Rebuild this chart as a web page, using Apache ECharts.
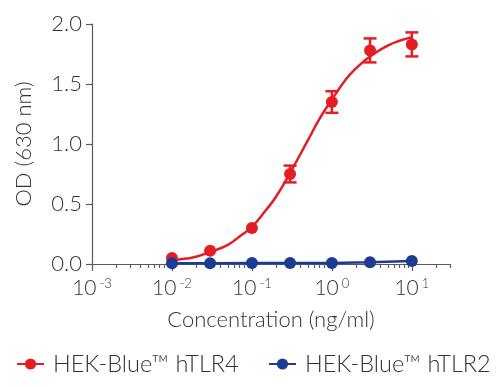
<!DOCTYPE html>
<html>
<head>
<meta charset="utf-8">
<script src="https://cdn.jsdelivr.net/npm/echarts@6/dist/echarts.min.js"></script>
<style>html,body{margin:0;padding:0;background:#fff}#c{width:500px;height:387px}</style>
</head>
<body>
<div id="c"></div>
<script>
// Concentrations (ng/ml)
const concentrations = [0.01, 0.03, 0.1, 0.3, 1, 3, 10];
// HEK-Blue hTLR4 mean OD and error (±)
const tlr4Mean = [0.05, 0.11, 0.30, 0.75, 1.35, 1.78, 1.83];
const tlr4Err = [0, 0, 0, 0.07, 0.09, 0.10, 0.10];
// HEK-Blue hTLR2 mean OD
const tlr2Mean = [0.006, 0.006, 0.008, 0.008, 0.008, 0.014, 0.025];
// Fitted curve for hTLR4
const fitConc = [0.01, 0.015, 0.02, 0.03, 0.05, 0.07, 0.1, 0.15, 0.2, 0.3, 0.5, 0.7, 1, 1.5, 2, 3, 5, 7, 10];
const fitTlr4 = [0.03, 0.045, 0.06, 0.10, 0.16, 0.23, 0.31, 0.45, 0.56, 0.76, 1.03, 1.21, 1.37, 1.54, 1.63, 1.73, 1.82, 1.86, 1.89];
// Axis ticks
const xMajorTicks = [0.001, 0.01, 0.1, 1, 10];
const xMinorTicks = [];
[0.001, 0.01, 0.1, 1, 10].forEach(function (d) {
  for (let k = 2; k <= 9; k++) { const v = +(k * d).toPrecision(3); if (v <= 30) xMinorTicks.push(v); }
});
const seriesNames = ['HEK-Blue™ hTLR4', 'HEK-Blue™ hTLR2'];

const RED = '#e41d25', BLUE = '#1c3c93', AX = '#5a5a5a', TXT = '#333';
const FONT = "'Lato Light', Lato";
const FW = 300;

const chart = echarts.init(document.getElementById('c'), null, { renderer: 'canvas' });

function expLabel(v) {
  const e = Math.round(Math.log10(v));
  return '{b|10}{s|' + (e < 0 ? '-' + (-e) : '' + e) + '}';
}

const errData = concentrations.map((c, i) => [c, tlr4Mean[i] - tlr4Err[i], tlr4Mean[i] + tlr4Err[i]]).filter((d, i) => tlr4Err[i] > 0);

chart.setOption({
  animation: false,
  grid: { left: 92, right: 50, top: 24, bottom: 123 },
  xAxis: [{
    type: 'log', logBase: 10, min: 0.001, max: 30,
    name: 'Concentration (ng/ml)', nameLocation: 'middle', nameGap: 45,
    nameTextStyle: { fontFamily: FONT, fontWeight: FW, fontSize: 22, color: TXT },
    axisLine: { show: true, lineStyle: { color: AX, width: 1.2 } },
    axisTick: { show: true, length: 7, lineStyle: { color: AX, width: 1.2 }, customValues: xMajorTicks },
    axisLabel: {
      customValues: xMajorTicks, margin: 13, formatter: expLabel,
      rich: {
        b: { fontFamily: FONT, fontWeight: FW, fontSize: 21, color: TXT, lineHeight: 22 },
        s: { fontFamily: FONT, fontWeight: FW, fontSize: 13, color: TXT, verticalAlign: 'top', lineHeight: 12, padding: [0, 0, 0, 3] }
      }
    },
    splitLine: { show: false }, minorTick: { show: false }
  }, {
    type: 'log', logBase: 10, min: 0.001, max: 30, position: 'bottom',
    axisLine: { show: false },
    axisTick: { show: true, length: 4, lineStyle: { color: AX, width: 1.2 }, customValues: xMinorTicks },
    axisLabel: { show: false }, splitLine: { show: false }
  }],
  yAxis: {
    type: 'value', min: 0, max: 2, interval: 0.5,
    name: 'OD (630 nm)', nameLocation: 'middle', nameGap: 57,
    nameTextStyle: { fontFamily: FONT, fontWeight: FW, fontSize: 22, color: TXT },
    axisLine: { show: true, lineStyle: { color: AX, width: 1.2 } },
    axisTick: { show: true, length: 6, lineStyle: { color: AX, width: 1.2 } },
    axisLabel: { fontFamily: FONT, fontWeight: FW, fontSize: 22, color: TXT, margin: 10, formatter: v => v.toFixed(1) },
    splitLine: { show: false }
  },
  legend: [{
    data: [seriesNames[0]], left: 16, top: 352, padding: 0,
    itemWidth: 27, itemHeight: 14,
    textStyle: { fontFamily: FONT, fontWeight: FW, fontSize: 23.5, color: TXT, padding: [0, 0, 0, 4] }
  }, {
    data: [seriesNames[1]], left: 268, top: 352, padding: 0,
    itemWidth: 27, itemHeight: 14,
    textStyle: { fontFamily: FONT, fontWeight: FW, fontSize: 23.5, color: TXT, padding: [0, 0, 0, 4] }
  }],
  series: [{
    name: seriesNames[0], type: 'line', smooth: true,
    data: fitConc.map((c, i) => [c, fitTlr4[i]]),
    symbol: 'circle', symbolSize: 12, showSymbol: false,
    itemStyle: { color: RED, opacity: 1 }, lineStyle: { color: RED, width: 2.5 }, z: 2
  }, {
    name: 'tlr4-err', type: 'custom',
    data: errData,
    renderItem: function (params, api) {
      const x = api.value(0);
      const lo = api.coord([x, api.value(1)]);
      const hi = api.coord([x, api.value(2)]);
      const w = 6.5;
      const st = { stroke: RED, lineWidth: 2.5 };
      return {
        type: 'group', children: [
          { type: 'line', shape: { x1: lo[0], y1: lo[1], x2: hi[0], y2: hi[1] }, style: st },
          { type: 'line', shape: { x1: hi[0] - w, y1: hi[1], x2: hi[0] + w, y2: hi[1] }, style: st },
          { type: 'line', shape: { x1: lo[0] - w, y1: lo[1], x2: lo[0] + w, y2: lo[1] }, style: st }
        ]
      };
    }, z: 3
  }, {
    name: 'tlr4-points', type: 'scatter',
    data: concentrations.map((c, i) => [c, tlr4Mean[i]]),
    symbol: 'circle', symbolSize: 12, itemStyle: { color: RED, opacity: 1 }, z: 4
  }, {
    name: seriesNames[1], type: 'line',
    data: concentrations.map((c, i) => [c, tlr2Mean[i]]),
    symbol: 'circle', symbolSize: 12, showSymbol: true,
    itemStyle: { color: BLUE, opacity: 1 }, lineStyle: { color: BLUE, width: 2.5 }, z: 5
  }]
});
</script>
</body>
</html>
